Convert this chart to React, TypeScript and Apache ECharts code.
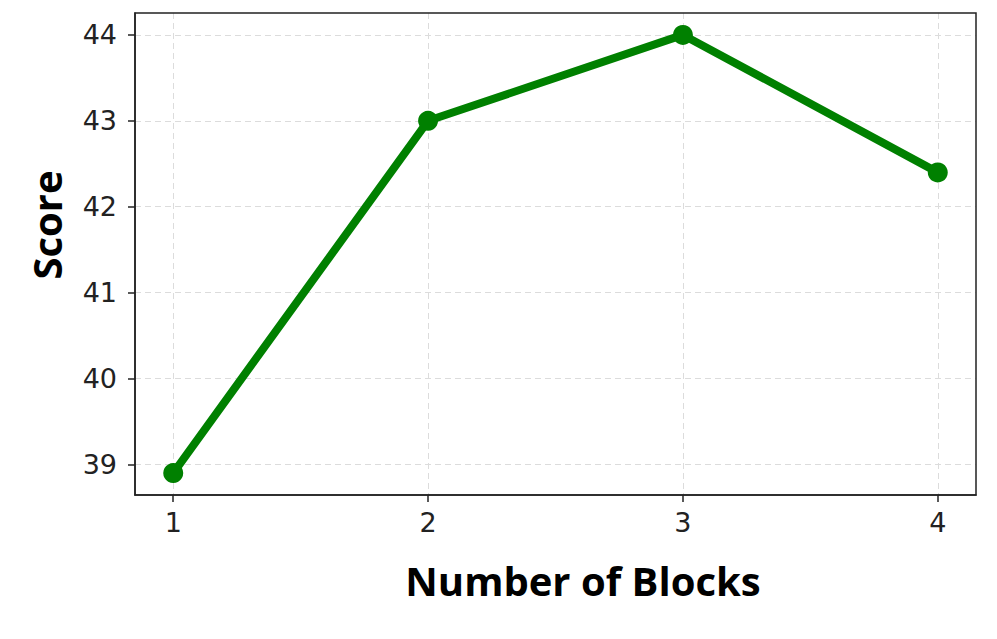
import React, { useEffect, useRef } from "react";
import * as echarts from "echarts";

const blocks = [1, 2, 3, 4];
const scores = [38.9, 43.0, 44.0, 42.4];
const yTicks = [39, 40, 41, 42, 43, 44];
const xTitle = "Number of Blocks";
const yTitle = "Score";

export default function App() {
  const ref = useRef<HTMLDivElement>(null);
  useEffect(() => {
    const chart = echarts.init(ref.current!, null, { renderer: "svg" });
    const gridLine = { show: true, lineStyle: { color: "#dcdcdc", type: [6, 4], width: 1 } };
    chart.setOption({
      animation: false,
      backgroundColor: "#ffffff",
      grid: { left: 135, top: 13, width: 841, height: 482, containLabel: false, show: false },
      xAxis: {
        type: "value",
        min: 0.85,
        max: 4.15,
        axisLine: { show: true, onZero: false, lineStyle: { color: "#222", width: 1.5 } },
        axisTick: { show: true, length: 7, customValues: blocks, lineStyle: { color: "#222", width: 1.5 } },
        axisLabel: { customValues: blocks, fontSize: 27, color: "#222", fontFamily: "DejaVu Sans", margin: 14 },
        splitLine: gridLine,
      },
      yAxis: {
        type: "value",
        min: 38.645,
        max: 44.255,
        axisLine: { show: true, onZero: false, lineStyle: { color: "#222", width: 1.5 } },
        axisTick: { show: true, length: 7, customValues: yTicks, lineStyle: { color: "#222", width: 1.5 } },
        axisLabel: { customValues: yTicks, fontSize: 27, color: "#222", fontFamily: "DejaVu Sans", margin: 18 },
        splitLine: gridLine,
      },
      graphic: [
        {
          type: "rect",
          shape: { x: 135, y: 13, width: 841, height: 482 },
          style: { fill: "none", stroke: "#222", lineWidth: 1.5 },
          silent: true,
          z: 10,
        },
        {
          type: "text",
          x: 583,
          y: 580,
          style: {
            text: xTitle,
            font: "bold 40px 'Open Sans'",
            fill: "#000",
            align: "center",
            verticalAlign: "middle",
          },
        },
        {
          type: "text",
          x: 46,
          y: 225,
          rotation: Math.PI / 2,
          style: {
            text: yTitle,
            font: "bold 40px 'Open Sans'",
            fill: "#000",
            align: "center",
            verticalAlign: "middle",
          },
        },
      ],
      series: [
        {
          type: "line",
          data: blocks.map((b, i) => [b, scores[i]]),
          symbol: "circle",
          symbolSize: 20,
          lineStyle: { color: "#008000", width: 8 },
          itemStyle: { color: "#008000" },
          z: 5,
        },
      ],
    });
    return () => chart.dispose();
  }, []);
  return (
    <div
      ref={ref}
      style={{ position: "absolute", left: 0, top: 0, width: 997, height: 639 }}
    />
  );
}
